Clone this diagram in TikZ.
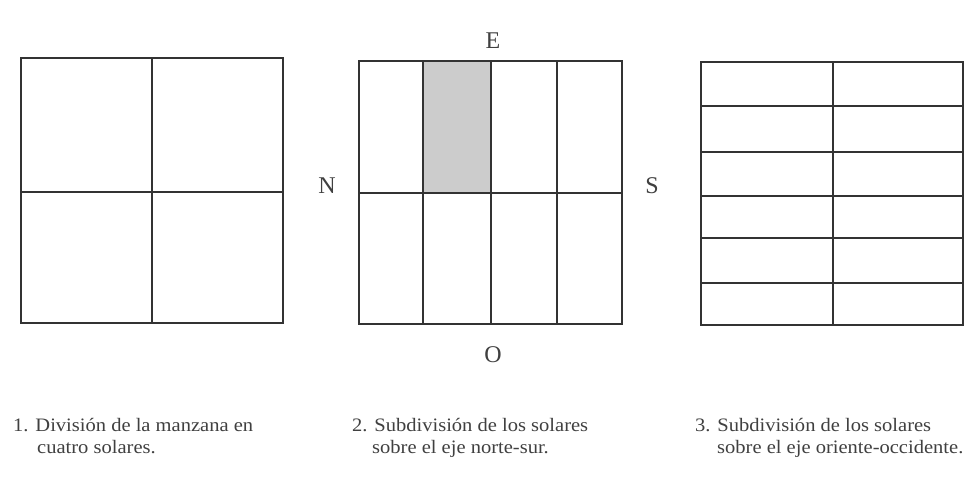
\documentclass[tikz,border=0pt]{standalone}
\usepackage{fontspec}
\setmainfont{Liberation Serif}
\begin{document}
\begin{tikzpicture}[x=1pt,y=-1pt,
  gridline/.style={draw=black!80,line width=1.6pt},
  dirlabel/.style={font=\fontsize{24}{24}\selectfont,text=black!75,inner sep=0pt},
  caption/.style={font=\fontsize{19}{22}\selectfont,text=black!75,inner sep=0pt,anchor=base west,xscale=1.08}]
\useasboundingbox[fill=white] (0,0) rectangle (967,496);
% Figure 1
\draw[gridline] (21,58) rectangle (283,323);
\draw[gridline] (152,58) -- (152,323);
\draw[gridline] (21,192) -- (283,192);
% Figure 2
\fill[black!20] (423,61) rectangle (491,193);
\draw[gridline] (359,61) rectangle (622,324);
\foreach \x in {423,491,557} \draw[gridline] (\x,61) -- (\x,324);
\draw[gridline] (359,193) -- (622,193);
\node[dirlabel] (E) at (493,41) {E};
\node[dirlabel] (N) at (327,186) {N};
\node[dirlabel] (S) at (652,186) {S};
\node[dirlabel] (O) at (493,355) {O};
% Figure 3
\draw[gridline] (701,62) rectangle (963,325);
\draw[gridline] (833,62) -- (833,325);
\foreach \y in {106,152,196,238,283} \draw[gridline] (701,\y) -- (963,\y);
% Captions
\node[caption] (c1a) at (13,431) {1. División de la manzana en};
\node[caption] (c1b) at (37,453) {cuatro solares.};
\node[caption] (c2a) at (352,431) {2. Subdivisión de los solares};
\node[caption] (c2b) at (372,453) {sobre el eje norte-sur.};
\node[caption] (c3a) at (695,431) {3. Subdivisión de los solares};
\node[caption] (c3b) at (717,453) {sobre el eje oriente-occidente.};
\end{tikzpicture}
\end{document}
